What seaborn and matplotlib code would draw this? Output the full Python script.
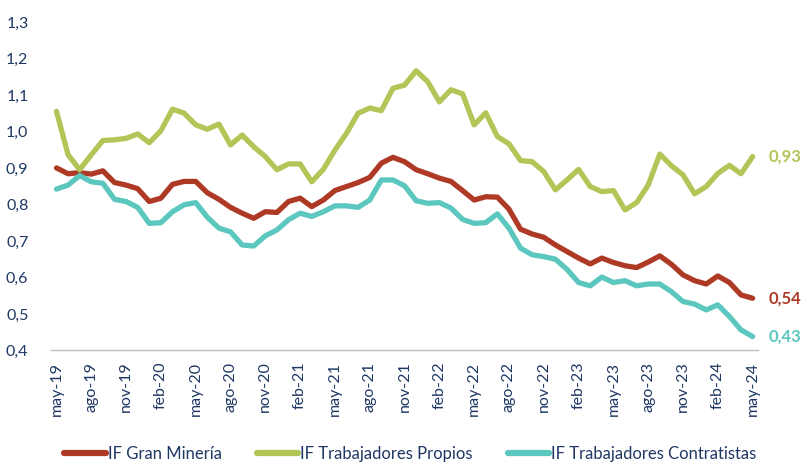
import pandas as pd
import matplotlib.pyplot as plt
import seaborn as sns
from matplotlib.ticker import FuncFormatter, FixedLocator

# monthly values, may-19 .. may-24
meses = ['may', 'jun', 'jul', 'ago', 'sep', 'oct', 'nov', 'dic', 'ene', 'feb', 'mar', 'abr']
fechas = [f"{meses[k % 12]}-{19 + (k + 4) // 12}" for k in range(61)]

gran_mineria = [0.90, 0.884, 0.887, 0.883, 0.892, 0.86, 0.853, 0.843, 0.808, 0.817,
                0.855, 0.863, 0.863, 0.832, 0.814, 0.792, 0.776, 0.762, 0.78, 0.778,
                0.808, 0.817, 0.794, 0.812, 0.838, 0.849, 0.86, 0.874, 0.913, 0.929,
                0.917, 0.895, 0.884, 0.872, 0.863, 0.838, 0.812, 0.821, 0.82, 0.787,
                0.732, 0.719, 0.71, 0.689, 0.671, 0.653, 0.637, 0.653, 0.641, 0.632,
                0.627, 0.642, 0.659, 0.636, 0.607, 0.591, 0.582, 0.604, 0.586, 0.552, 0.543]

propios = [1.055, 0.936, 0.895, 0.936, 0.975, 0.977, 0.981, 0.993, 0.969, 1.002,
           1.061, 1.05, 1.018, 1.006, 1.02, 0.963, 0.99, 0.958, 0.931, 0.895,
           0.911, 0.911, 0.862, 0.896, 0.949, 0.995, 1.05, 1.064, 1.057, 1.118,
           1.127, 1.166, 1.136, 1.081, 1.114, 1.103, 1.018, 1.051, 0.986, 0.966,
           0.92, 0.917, 0.89, 0.84, 0.867, 0.896, 0.849, 0.835, 0.838, 0.785,
           0.805, 0.853, 0.938, 0.906, 0.881, 0.829, 0.849, 0.885, 0.907, 0.884, 0.931]

contratistas = [0.842, 0.853, 0.879, 0.862, 0.858, 0.814, 0.808, 0.792, 0.748, 0.75,
                0.78, 0.799, 0.805, 0.765, 0.735, 0.725, 0.689, 0.686, 0.714, 0.73,
                0.758, 0.776, 0.767, 0.78, 0.796, 0.796, 0.792, 0.812, 0.867, 0.867,
                0.851, 0.81, 0.803, 0.805, 0.79, 0.759, 0.748, 0.75, 0.774, 0.735,
                0.68, 0.662, 0.657, 0.65, 0.622, 0.586, 0.577, 0.601, 0.586, 0.591,
                0.577, 0.582, 0.582, 0.561, 0.534, 0.527, 0.511, 0.525, 0.493, 0.456, 0.438]

series = ['IF Gran Minería', 'IF Trabajadores Propios', 'IF Trabajadores Contratistas']
colores = ['#AE3A26', '#B2C557', '#5BC7BE']
etiquetas_fin = ['0,54', '0,93', '0,43']

df = pd.DataFrame({
    'idx': list(range(61)) * 3,
    'valor': gran_mineria + propios + contratistas,
    'serie': [s for s in series for _ in range(61)],
})

sns.set_style('white')
plt.rcParams['font.family'] = ['Lato', 'DejaVu Sans']

fig = plt.figure(figsize=(8.03, 4.66), dpi=100)
ax = fig.add_axes([0.0631, 0.248, 0.8814, 0.705])

sns.lineplot(data=df, x='idx', y='valor', hue='serie', hue_order=series,
             palette=colores, linewidth=3.8, ax=ax, legend=True)

ax.set_xlim(-0.5, 60.5)
ax.set_ylim(0.4, 1.3)
ax.set_yticks([0.4 + 0.1 * k for k in range(10)])
ax.yaxis.set_major_formatter(FuncFormatter(lambda v, p: f'{v:.1f}'.replace('.', ',')))
ax.tick_params(axis='y', length=0, pad=16, labelsize=11.5, labelcolor='#1F3864')

ax.set_xticks(range(0, 61, 3))
ax.set_xticklabels(fechas[::3], rotation=90, fontsize=11.5, color='#1F3864')
ax.tick_params(axis='x', which='major', length=0, pad=8)
ax.xaxis.set_minor_locator(FixedLocator([k - 0.5 for k in range(0, 61, 3)]))
ax.tick_params(axis='x', which='minor', length=5, width=1, color='#BFBFBF', direction='out')

for s in ['top', 'right', 'left']:
    ax.spines[s].set_visible(False)
ax.spines['bottom'].set_color('#BFBFBF')
ax.spines['bottom'].set_linewidth(1)
ax.set_xlabel('')
ax.set_ylabel('')

finales = [gran_mineria[-1], propios[-1], contratistas[-1]]
for v, txt, c in zip(finales, etiquetas_fin, colores):
    ax.annotate(txt, xy=(60, v), xytext=(11.5, 0), textcoords='offset points',
                va='center', ha='left', fontsize=12, fontweight='bold', color=c,
                annotation_clip=False)

handles, labels = ax.get_legend_handles_labels()
ax.get_legend().remove()
leg = fig.legend(handles, labels, loc='center', bbox_to_anchor=(0.511, 0.026), ncol=3,
                 frameon=False, fontsize=12, handlelength=2.5, handletextpad=0.12,
                 columnspacing=2.1)
for h in leg.get_lines():
    h.set_linewidth(4.5)
for t in leg.get_texts():
    t.set_color('#1F3864')

fig.savefig('out.png', dpi=100)
